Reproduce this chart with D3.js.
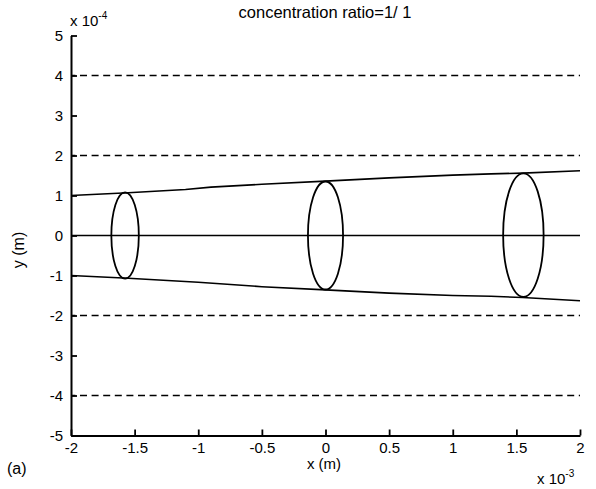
<!DOCTYPE html>
<html>
<head>
<meta charset="utf-8">
<script src="https://cdn.jsdelivr.net/npm/d3@7"></script>
<style>
  body { margin: 0; background: #fff; }
  svg { font-family: "Liberation Sans", Arial, Helvetica, sans-serif; }
</style>
</head>
<body>
<div id="chart"></div>
<script>
// x in units of 1e-3 m, y in units of 1e-4 m
const xTicks = [-2, -1.5, -1, -0.5, 0, 0.5, 1, 1.5, 2];
const yTicks = [-5, -4, -3, -2, -1, 0, 1, 2, 3, 4, 5];
const dashedLevels = [4, 2, -2, -4];

const upperX = [-2, -1.55, -1.1, -0.9, -0.5, 0, 0.5, 1.0, 1.3, 1.55, 2];
const upperY = [1.0, 1.07, 1.15, 1.21, 1.28, 1.36, 1.44, 1.51, 1.54, 1.56, 1.62];
const lowerX = [-2, -1.55, -1.0, -0.5, 0, 0.5, 1.0, 1.3, 1.55, 2];
const lowerY = [-1.0, -1.07, -1.17, -1.28, -1.36, -1.44, -1.5, -1.52, -1.55, -1.63];
const axisX = [-2, 2];
const axisY = [0, 0];

// droplets: center, half width, half height
const dropX = [-1.575, 0, 1.555];
const dropY = [0, 0, 0.01];
const dropHalfW = [0.108, 0.138, 0.159];
const dropHalfH = [1.08, 1.35, 1.545];

const W = 596, H = 489;
const margin = { left: 71, right: 16, top: 35.5, bottom: 53.5 };

const svg = d3.select('#chart').append('svg')
    .attr('width', W)
    .attr('height', H);

const x = d3.scaleLinear().domain([-2, 2]).range([margin.left, W - margin.right]);
const y = d3.scaleLinear().domain([-5, 5]).range([H - margin.bottom, margin.top]);

const line = d3.line()
    .x(d => x(d[0]))
    .y(d => y(d[1]));

// dashed levels
svg.selectAll('.level')
    .data(dashedLevels)
    .enter().append('line')
    .attr('class', 'level')
    .attr('x1', x(-2))
    .attr('x2', x(2))
    .attr('y1', d => y(d))
    .attr('y2', d => y(d))
    .attr('stroke', '#000')
    .attr('stroke-width', 1.6)
    .attr('stroke-dasharray', '7,4.6')
    .attr('stroke-dashoffset', -9);

// boundaries and centre line
[[upperX, upperY], [lowerX, lowerY], [axisX, axisY]].forEach(([xs, ys]) => {
    svg.append('path')
        .datum(xs.map((v, i) => [v, ys[i]]))
        .attr('fill', 'none')
        .attr('stroke', '#000')
        .attr('stroke-width', 1.6)
        .attr('d', line);
});

// droplets
svg.selectAll('.drop')
    .data(dropX)
    .enter().append('ellipse')
    .attr('class', 'drop')
    .attr('cx', d => x(d))
    .attr('cy', (d, i) => y(dropY[i]))
    .attr('rx', (d, i) => x(d + dropHalfW[i]) - x(d))
    .attr('ry', (d, i) => y(0) - y(dropHalfH[i]))
    .attr('fill', 'none')
    .attr('stroke', '#000')
    .attr('stroke-width', 1.8);

// axes (ticks inward, left and bottom only)
const yAxis = svg.append('g')
    .attr('transform', `translate(${x(-2)},0)`)
    .call(d3.axisLeft(y).tickValues(yTicks).tickFormat(d => String(d))
        .tickSizeInner(-6).tickSizeOuter(0).tickPadding(8));

const xAxis = svg.append('g')
    .attr('transform', `translate(0,${y(-5)})`)
    .call(d3.axisBottom(x).tickValues(xTicks).tickFormat(d => String(d))
        .tickSizeInner(-6).tickSizeOuter(0).tickPadding(7));

[yAxis, xAxis].forEach(g => {
    g.select('.domain').attr('stroke', '#000').attr('stroke-width', 2);
    g.selectAll('.tick line').attr('stroke', '#000').attr('stroke-width', 1.8);
    g.selectAll('.tick text')
        .attr('fill', '#000')
        .style('font-size', '15px')
        .style('font-family', '"Liberation Sans", Arial, Helvetica, sans-serif');
});

// title
svg.append('text')
    .attr('x', 325)
    .attr('y', 18)
    .attr('text-anchor', 'middle')
    .style('font-size', '16.5px')
    .text('concentration ratio=1/ 1');

// axis labels
svg.append('text')
    .attr('transform', 'translate(24,250) rotate(-90)')
    .attr('text-anchor', 'middle')
    .style('font-size', '16px')
    .text('y (m)');

svg.append('text')
    .attr('x', 324)
    .attr('y', 469)
    .attr('text-anchor', 'middle')
    .style('font-size', '15px')
    .text('x (m)');

svg.append('text')
    .attr('x', 7)
    .attr('y', 474)
    .style('font-size', '16px')
    .text('(a)');

// exponent labels
const expo = (px, py, pow) => {
    const t = svg.append('text')
        .attr('x', px)
        .attr('y', py)
        .style('font-size', '15px');
    t.append('tspan').text('x 10');
    t.append('tspan')
        .attr('dy', -7)
        .style('font-size', '10px')
        .text(pow);
};
expo(70, 26, '-4');
expo(537, 484, '-3');
</script>
</body>
</html>
